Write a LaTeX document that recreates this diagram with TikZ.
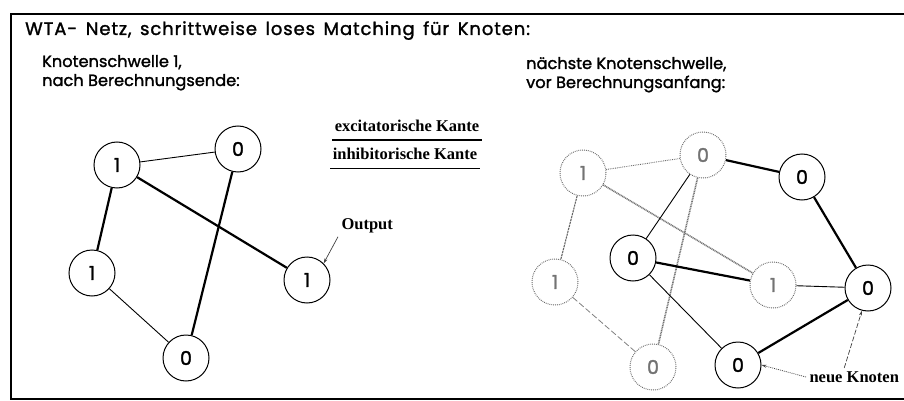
\documentclass[tikz,border=0pt]{standalone}
\usepackage{fontspec}
\setmainfont{Liberation Serif}
\newfontfamily\geofont{Poppins}[FakeBold=1.5]
\newfontfamily\titlefont{Poppins}[FakeBold=1.5, WordSpace=1.5, LetterSpace=5]
\usetikzlibrary{arrows.meta}

\begin{document}
\begin{tikzpicture}[x=1pt, y=-1pt,
  neuron/.style={draw, circle, line width=1pt, minimum size=46pt, inner sep=0pt, font=\geofont\fontsize{19}{19}\selectfont},
  oldneuron/.style={neuron, draw=black!60, dash pattern=on 0.8pt off 1.1pt, text=black!55},
  exc/.style={line width=2.2pt},
  inh/.style={line width=0.9pt},
  oldexc/.style={draw=black!55, line width=1.6pt, dash pattern=on 1pt off 0.7pt},
  oldinh/.style={draw=black!60, line width=0.9pt, dash pattern=on 0.8pt off 1pt},
  olddash/.style={draw=black!60, line width=1.1pt, dash pattern=on 2.2pt off 0.8pt},
  oldlong/.style={draw=black!50, line width=0.8pt, dash pattern=on 6pt off 2.5pt},
  label/.style={font=\bfseries\fontsize{16.5}{16.5}\selectfont},
  heading/.style={font=\geofont\fontsize{16.2}{19}\selectfont, align=left, anchor=base west, inner sep=0pt},
  pointer/.style={-{Stealth[length=5pt, width=3pt]}, line width=0.7pt, draw=black!75}]
\useasboundingbox (0,0) rectangle (904,401);
\draw[line width=1.4pt] (904,14) -- (11,14) -- (11,399) -- (904,399);

\node[heading, font=\titlefont\fontsize{18}{19}\selectfont] (title) at (25,35) {WTA- Netz, schrittweise loses Matching für Knoten:};
\node[heading] (lhead) at (42,86) {Knotenschwelle 1,\\nach Berechnungsende:};
\node[heading] (rhead) at (526,88) {nächste Knotenschwelle,\\vor Berechnungsanfang:};

\node[label] (exclab) at (407,126) {excitatorische Kante};
\draw[exc] (332,140) -- (482,140);
\node[label] (inhlab) at (405,154) {inhibitorische Kante};
\draw[inh] (330,168) -- (480,168);

\node[neuron] (l1a) at (117,165) {1};
\node[neuron] (l0a) at (238,149) {0};
\node[neuron] (l1b) at (92,273) {1};
\node[neuron] (l1c) at (307,280) {1};
\node[neuron] (l0b) at (186,358) {0};
\draw[inh] (l1a) -- (l0a);
\draw[exc] (l1a) -- (l1b);
\draw[exc] (l1a) -- (l1c);
\draw[exc] (l0a) -- (l0b);
\draw[inh] (l1b) -- (l0b);

\node[label, anchor=west] (outlab) at (338,226) {Output};
\draw[pointer] (outlab.south west) -- (l1c.north east);

\node[oldneuron] (r1a) at (583,173) {1};
\node[oldneuron] (r0a) at (703,155) {0};
\node[oldneuron] (r1b) at (555,282) {1};
\node[oldneuron] (r1c) at (773,285) {1};
\node[oldneuron] (r0b) at (653,367) {0};
\draw[oldinh] (r1a) -- (r0a);
\draw[olddash] (r1a) -- (r1b);
\draw[oldexc] (r1a) -- (r1c);
\draw[oldexc] (r0a) -- (r0b);
\draw[oldlong] (r1b) -- (r0b);

\node[neuron] (n0a) at (802,177) {0};
\node[neuron] (n0b) at (633,258) {0};
\node[neuron] (n0c) at (868,288) {0};
\node[neuron] (n0d) at (738,365) {0};
\draw[exc] (r0a) -- (n0a);
\draw[inh] (r0a) -- (n0b);
\draw[exc] (n0a) -- (n0c);
\draw[exc] (n0b) -- (r1c);
\draw[inh] (n0b) -- (n0d);
\draw[inh] (r1c) -- (n0c);
\draw[exc] (n0d) -- (n0c);

\node[label, anchor=west] (newlab) at (806,377) {neue Knoten};
\draw[pointer, dash pattern=on 1pt off 1pt] (newlab.west) -- (n0d.east);
\draw[pointer, dash pattern=on 5pt off 2pt] ([xshift=-10pt]newlab.north) -- (n0c.255);
\end{tikzpicture}
\end{document}
